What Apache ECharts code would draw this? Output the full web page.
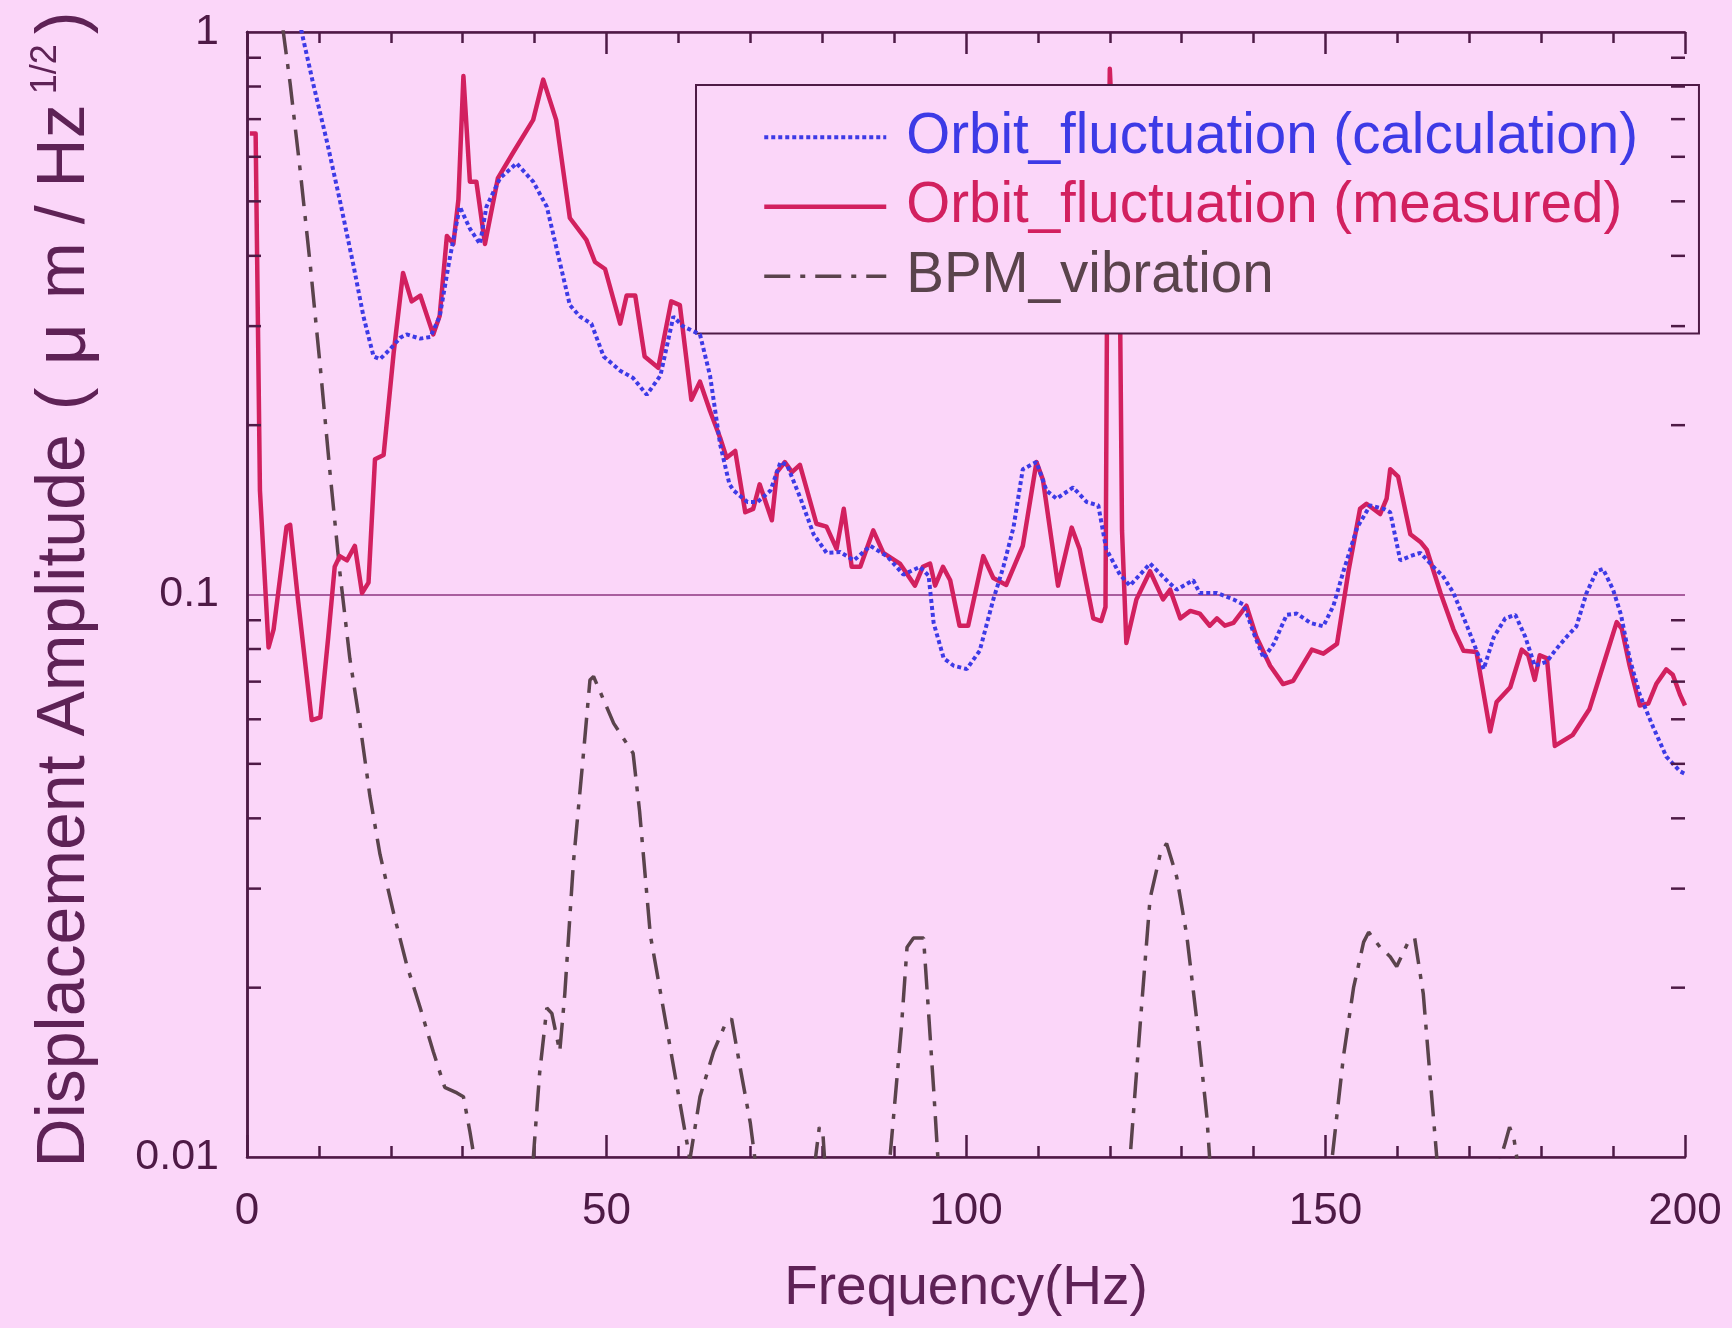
<!DOCTYPE html>
<html>
<head>
<meta charset="utf-8">
<script src="https://cdn.jsdelivr.net/npm/echarts@6/dist/echarts.min.js"></script>
<style>
  html, body { margin: 0; padding: 0; background: #fbd6f9; }
  #chart { width: 1732px; height: 1328px; }
</style>
</head>
<body>
<div id="chart"></div>
<script>
// Orbit fluctuation, measured spectrum (Hz, um/Hz^1/2)
const measuredFreq = [0.4, 1.2, 1.8, 3.0, 3.7, 5.5, 6.0, 7.1, 9.0, 10.2, 11.3, 12.2, 12.9, 13.9, 15.0, 16.0, 16.9, 17.8, 19.0, 20.4,
  21.7, 22.9, 24.1, 25.9, 26.8, 27.8, 28.7, 29.4, 30.1, 31.0, 31.9, 33.1, 34.9, 37.0, 39.8, 41.2, 43.0, 44.9, 47.2, 48.4,
  49.8, 51.9, 52.8, 54.0, 55.3, 57.2, 59.0, 60.2, 61.8, 63.0, 64.4, 65.8, 66.7, 67.9, 69.3, 70.4, 71.3, 73.0, 73.7, 74.8,
  75.8, 76.9, 79.2, 80.6, 82.0, 83.0, 84.1, 85.3, 87.1, 88.5, 90.8, 92.9, 94.0, 95.0, 95.7, 96.8, 97.8, 99.1, 100.3, 102.4,
  103.8, 105.6, 107.9, 109.8, 110.7, 112.8, 114.7, 115.8, 117.7, 118.8, 119.4, 119.6, 120.0, 121.4, 121.7, 122.3, 123.7, 125.6, 127.4, 128.4,
  129.8, 131.2, 132.5, 133.9, 134.9, 136.0, 137.2, 139.0, 140.4, 142.3, 144.1, 145.5, 148.1, 149.7, 151.6, 153.2, 154.8, 155.7, 157.6, 158.5,
  159.0, 160.1, 161.8, 163.2, 164.1, 166.0, 167.8, 169.2, 171.0, 172.9, 173.8, 175.7, 177.3, 178.2, 179.1, 179.8, 180.8, 181.9, 184.4, 186.7,
  188.6, 190.5, 191.2, 192.3, 193.7, 194.9, 196.0, 197.4, 198.3, 199.3, 200.0];
const measuredAmp = [0.66, 0.66, 0.153, 0.0805, 0.0867, 0.132, 0.133, 0.0977, 0.0598, 0.0605, 0.084, 0.112, 0.117, 0.115, 0.122, 0.1006, 0.105, 0.174, 0.177, 0.269,
  0.373, 0.332, 0.34, 0.29, 0.313, 0.434, 0.42, 0.503, 0.835, 0.542, 0.542, 0.42, 0.55, 0.61, 0.698, 0.823, 0.698, 0.467, 0.427, 0.39,
  0.379, 0.303, 0.34, 0.34, 0.265, 0.253, 0.332, 0.327, 0.222, 0.239, 0.212, 0.19, 0.175, 0.18, 0.14, 0.142, 0.157, 0.1355, 0.165, 0.172,
  0.165, 0.17, 0.1336, 0.132, 0.1205, 0.142, 0.112, 0.112, 0.13, 0.1186, 0.1135, 0.1037, 0.112, 0.1135, 0.1037, 0.112, 0.106, 0.088, 0.088, 0.117,
  0.107, 0.104, 0.122, 0.172, 0.16, 0.1037, 0.1315, 0.1205, 0.0907, 0.0897, 0.095, 0.3, 0.86, 0.35, 0.13, 0.082, 0.098, 0.110, 0.098, 0.102,
  0.0907, 0.0935, 0.0925, 0.088, 0.0907, 0.088, 0.089, 0.0955, 0.084, 0.0747, 0.0693, 0.0702, 0.0798, 0.0785, 0.0817, 0.11, 0.142, 0.145, 0.139, 0.148,
  0.167, 0.162, 0.128, 0.124, 0.12, 0.1006, 0.0867, 0.0794, 0.079, 0.0571, 0.0644, 0.0684, 0.0798, 0.078, 0.0705, 0.078, 0.077, 0.0538, 0.0563, 0.0625,
  0.0747, 0.0893, 0.087, 0.0747, 0.0635, 0.064, 0.0693, 0.0736, 0.072, 0.0664, 0.0635];

// Orbit fluctuation, calculated spectrum
const calcFreq = [7.1, 7.6, 9.2, 11.1, 12.9, 14.8, 16.2, 17.6, 18.5, 19.9, 21.3, 22.2, 24.1, 25.5, 26.8, 28.2, 29.6, 31.0, 32.4, 33.3,
  35.2, 37.5, 39.8, 41.7, 43.5, 44.9, 46.3, 47.9, 49.6, 51.9, 53.7, 55.6, 57.5, 59.3, 60.6, 63.0, 64.4, 65.8, 67.1, 67.7,
  69.6, 71.0, 72.8, 74.2, 75.1, 77.0, 78.8, 80.6, 82.5, 84.4, 86.7, 89.0, 91.3, 93.6, 94.8, 95.5, 96.9, 98.3, 100.1, 101.9,
  103.8, 105.2, 106.6, 107.9, 109.8, 111.2, 112.6, 114.9, 116.8, 118.4, 119.5, 121.4, 122.8, 125.6, 127.9, 129.3, 131.6, 132.5, 134.9, 137.2,
  138.6, 140.0, 141.4, 142.8, 144.6, 146.0, 147.9, 149.7, 151.1, 152.5, 154.4, 156.2, 158.1, 159.0, 160.4, 161.8, 163.2, 165.0, 166.3, 167.8,
  169.7, 172.0, 173.4, 175.0, 176.4, 177.8, 179.1, 180.8, 181.9, 183.5, 184.9, 186.3, 187.7, 188.6, 190.0, 191.1, 192.3, 193.7, 195.6, 197.4,
  199.3, 200.0];
const calcAmp = [1.1, 1.0, 0.81, 0.64, 0.503, 0.385, 0.312, 0.265, 0.262, 0.273, 0.286, 0.29, 0.285, 0.287, 0.312, 0.396, 0.489, 0.447, 0.42, 0.489,
  0.55, 0.584, 0.542, 0.489, 0.39, 0.327, 0.312, 0.303, 0.265, 0.25, 0.2426, 0.2265, 0.245, 0.312, 0.3, 0.29, 0.245, 0.185, 0.157, 0.153,
  0.146, 0.146, 0.153, 0.172, 0.17, 0.148, 0.128, 0.1186, 0.119, 0.115, 0.122, 0.117, 0.1085, 0.112, 0.108, 0.089, 0.077, 0.0747, 0.0737, 0.0794,
  0.098, 0.112, 0.1315, 0.167, 0.172, 0.153, 0.148, 0.155, 0.146, 0.144, 0.1205, 0.1085, 0.1037, 0.1135, 0.106, 0.102, 0.106, 0.1006, 0.1006, 0.098,
  0.096, 0.0855, 0.077, 0.0817, 0.092, 0.0925, 0.089, 0.0878, 0.0955, 0.110, 0.1315, 0.144, 0.142, 0.14, 0.115, 0.117, 0.1186, 0.112, 0.108, 0.1006,
  0.0878, 0.0737, 0.084, 0.0907, 0.092, 0.084, 0.0747, 0.076, 0.0794, 0.084, 0.0878, 0.1006, 0.11, 0.111, 0.102, 0.092, 0.077, 0.0664, 0.058, 0.0515,
  0.0485, 0.048];

// BPM vibration spectrum (drops below the 0.01 floor between the peaks)
const bpmFreq = [4.5, 5.05, 6.0, 7.4, 8.8, 10.2, 11.5, 12.9, 14.3, 15.7, 17.1, 18.5, 20.4, 22.2, 24.1, 25.9, 27.5, 29.2, 30.1, 31.0,
  31.7, 32.2, 39.4, 39.8, 40.7, 41.7, 42.4, 43.5, 44.2, 45.4, 46.8, 47.7, 48.2, 51.0, 53.7, 54.6, 56.1, 58.4, 60.2, 61.6,
  63.0, 64.9, 66.5, 67.4, 68.6, 70.0, 70.7, 71.2, 78.5, 79.0, 79.6, 80.1, 80.4, 80.8, 88.8, 89.4, 91.0, 91.8, 92.7, 94.1,
  94.8, 95.5, 96.1, 96.6, 122.3, 122.8, 124.4, 125.6, 127.0, 127.9, 129.3, 130.7, 132.1, 133.5, 133.9, 134.4, 150.4, 150.9, 152.5, 153.9,
  155.3, 156.0, 157.6, 159.0, 159.9, 161.5, 162.4, 163.6, 164.5, 165.5, 166.0, 173.8, 174.3, 175.0, 175.6, 176.2, 176.7, 177.2, 200.0];
const bpmAmp = [1.25, 1.0, 0.81, 0.567, 0.385, 0.253, 0.167, 0.110, 0.077, 0.059, 0.0438, 0.0345, 0.0271, 0.022, 0.0184, 0.0154, 0.0133, 0.013, 0.0128, 0.0111,
  0.0098, 0.007, 0.007, 0.0099, 0.0141, 0.0184, 0.018, 0.0154, 0.0195, 0.0334, 0.0522, 0.0705, 0.0715, 0.059, 0.0522, 0.0412, 0.0248, 0.0169, 0.0125, 0.0099,
  0.0128, 0.0154, 0.0172, 0.0176, 0.0144, 0.0115, 0.0098, 0.007, 0.007, 0.0098, 0.0113, 0.011, 0.0096, 0.007, 0.007, 0.0099, 0.0169, 0.0236, 0.0245, 0.0245,
  0.018, 0.0132, 0.0099, 0.007, 0.007, 0.0099, 0.0184, 0.0288, 0.0345, 0.0361, 0.0315, 0.0248, 0.0175, 0.0118, 0.0099, 0.007, 0.007, 0.0099, 0.0151, 0.02,
  0.0241, 0.0251, 0.0236, 0.0227, 0.0218, 0.0241, 0.0245, 0.0195, 0.0141, 0.0099, 0.007, 0.007, 0.0099, 0.0106, 0.0113, 0.0108, 0.0098, 0.007, 0.007];

// Axis ranges and ticks
const freqMin = 0, freqMax = 200, freqStep = 50, freqMinorSplit = 5;
const ampMin = 0.01, ampMax = 1;
const ampMinorTicks = [0.02, 0.03, 0.04, 0.05, 0.06, 0.07, 0.08, 0.09, 0.2, 0.3, 0.4, 0.5, 0.6, 0.7, 0.8, 0.9];

const seriesNames = ['Orbit_fluctuation (calculation)', 'Orbit_fluctuation (measured)', 'BPM_vibration'];

const bg = '#fbd6f9';
const axisColor = '#4e1a46';
const titleColor = '#5e2256';
const blue = '#3d3ae6';
const red = '#d2205f';
const gray = '#5a434c';
const font = "'Liberation Sans', 'Noto Sans CJK JP', sans-serif";

const pairs = (xs, ys) => xs.map((x, i) => [x, ys[i]]);

const axisLine = { show: true, lineStyle: { color: axisColor, width: 2.5 } };

const chart = echarts.init(document.getElementById('chart'), null, { renderer: 'canvas' });
chart.setOption({
  animation: false,
  backgroundColor: bg,
  textStyle: { fontFamily: font },
  grid: { left: 247, top: 32, right: 47, bottom: 171, containLabel: false },
  legend: {
    orient: 'vertical',
    left: 696,
    top: 85,
    selectedMode: false,
    data: [
      { name: seriesNames[0], textStyle: { color: blue } },
      { name: seriesNames[1], textStyle: { color: red } },
      { name: seriesNames[2], textStyle: { color: gray } }
    ],
    itemWidth: 122,
    itemHeight: 20,
    itemGap: 13,
    padding: [24, 61, 29, 66],
    backgroundColor: bg,
    borderColor: axisColor,
    borderWidth: 2,
    itemStyle: { opacity: 0 },
    lineStyle: { width: 'inherit' },
    textStyle: { fontSize: 56.5, fontFamily: font, padding: [0, 0, 0, 15] }
  },
  xAxis: [
    {
      type: 'value', min: freqMin, max: freqMax, interval: freqStep, position: 'bottom',
      axisLine,
      axisTick: { show: true, inside: true, length: 22, lineStyle: { color: axisColor, width: 2.5 } },
      minorTick: { show: true, splitNumber: freqMinorSplit, length: 11, lineStyle: { color: axisColor, width: 2.5 } },
      axisLabel: { fontSize: 44, color: axisColor, margin: 33, fontFamily: font },
      splitLine: { show: false },
      name: 'Frequency(Hz)', nameLocation: 'middle', nameGap: 104,
      nameTextStyle: { fontSize: 55, color: titleColor, fontFamily: font }
    },
    {
      type: 'value', min: freqMin, max: freqMax, interval: freqStep, position: 'top',
      axisLine,
      axisTick: { show: true, inside: true, length: 22, lineStyle: { color: axisColor, width: 2.5 } },
      minorTick: { show: true, splitNumber: freqMinorSplit, length: 11, lineStyle: { color: axisColor, width: 2.5 } },
      axisLabel: { show: false },
      splitLine: { show: false }
    }
  ],
  yAxis: [
    {
      type: 'log', logBase: 10, min: ampMin, max: ampMax, position: 'left',
      axisLine,
      axisTick: { show: false },
      axisLabel: {
        fontSize: 43, color: axisColor, margin: 28, fontFamily: font,
        formatter: v => String(parseFloat(Number(v).toPrecision(3)))
      },
      splitLine: { show: true, lineStyle: { color: '#8e3580', width: 1.5 } },
      name: '{m|Displacement Amplitude}{p|(}{mu|μ}{m|m}{sl|/}{m|Hz}{s|1/2}{q|)}',
      nameLocation: 'middle', nameGap: 145,
      nameTextStyle: {
        color: titleColor,
        padding: [0, 0, 0, 10],
        rich: {
          m: { fontSize: 68, color: titleColor, fontFamily: font },
          p: { fontSize: 68, color: titleColor, fontFamily: font, padding: [0, 0, 0, 24] },
          mu: { fontSize: 74, color: titleColor, fontFamily: font, padding: [0, 24, 0, 22] },
          sl: { fontSize: 68, color: titleColor, fontFamily: font, padding: [0, 18, 0, 18] },
          s: { fontSize: 36, color: titleColor, fontFamily: font, verticalAlign: 'top', padding: [0, 4, 0, 10] },
          q: { fontSize: 68, color: titleColor, fontFamily: font, padding: [0, 0, 0, 6] }
        }
      }
    },
    {
      type: 'log', logBase: 10, min: ampMin, max: ampMax, position: 'right',
      axisLine,
      axisTick: { show: false },
      axisLabel: { show: false },
      splitLine: { show: false }
    }
  ],
  series: [
    {
      // minor decade ticks (2..9) on both vertical axes
      type: 'custom',
      coordinateSystem: 'cartesian2d',
      silent: true,
      clip: false,
      z: 5,
      data: ampMinorTicks.map(v => [freqMin, v]),
      renderItem: (params, api) => {
        const v = api.value(1);
        const l = api.coord([freqMin, v]);
        const r = api.coord([freqMax, v]);
        const st = { stroke: axisColor, lineWidth: 2.5 };
        return {
          type: 'group',
          children: [
            { type: 'line', shape: { x1: l[0], y1: l[1], x2: l[0] + 14, y2: l[1] }, style: st },
            { type: 'line', shape: { x1: r[0] - 14, y1: r[1], x2: r[0], y2: r[1] }, style: st }
          ]
        };
      }
    },
    {
      name: seriesNames[2], type: 'line', data: pairs(bpmFreq, bpmAmp),
      symbol: 'none', clip: true, z: 2,
      lineStyle: { color: gray, width: 3.5, type: [26, 10, 5, 10] },
      itemStyle: { color: gray }
    },
    {
      name: seriesNames[1], type: 'line', data: pairs(measuredFreq, measuredAmp),
      symbol: 'none', clip: true, z: 3,
      lineStyle: { color: red, width: 4.5, join: 'round' },
      itemStyle: { color: red }
    },
    {
      name: seriesNames[0], type: 'line', data: pairs(calcFreq, calcAmp),
      symbol: 'none', clip: true, z: 4,
      lineStyle: { color: blue, width: 4, type: [4, 3] },
      itemStyle: { color: blue }
    }
  ]
});
</script>
</body>
</html>
